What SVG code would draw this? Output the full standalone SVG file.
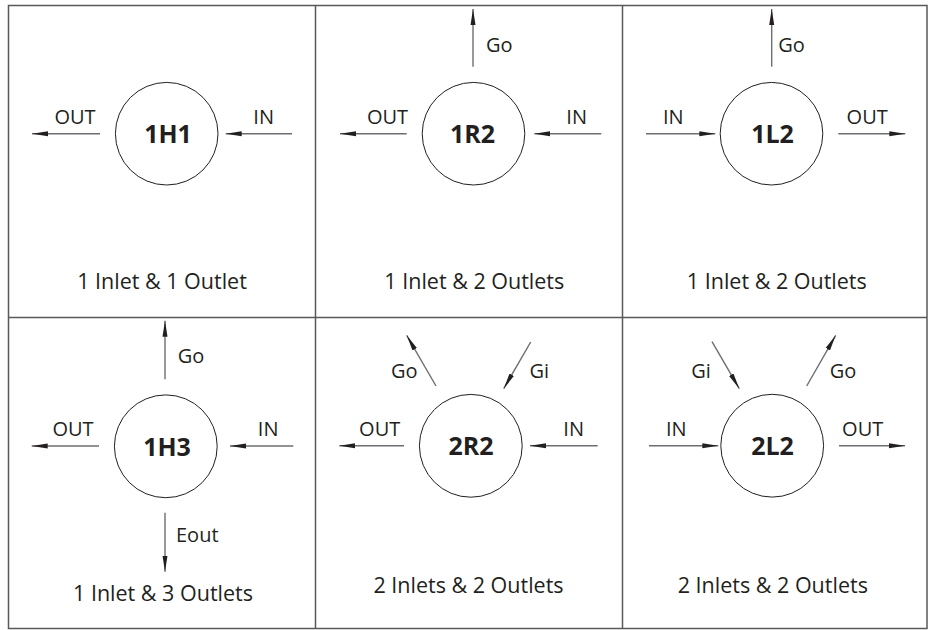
<svg xmlns="http://www.w3.org/2000/svg" width="930" height="630" viewBox="0 0 930 630">
<defs>
<marker id="ah" markerUnits="userSpaceOnUse" markerWidth="17" markerHeight="7" refX="16" refY="3.5" orient="auto">
<path d="M0,1 L16,3.5 L0,6 Z" fill="#231f20"/>
</marker>
<style>
.grid{fill:none;stroke:#58595b;stroke-width:1.5}
.node circle{fill:none;stroke:#231f20;stroke-width:1}
.id{font-family:"Open Sans","Noto Sans",sans-serif;font-weight:bold;font-size:25px;fill:#231f20;text-anchor:middle}
.lbl{font-family:"Open Sans","Noto Sans",sans-serif;font-size:20px;fill:#231f20}
.mid{text-anchor:middle}
.cap{font-family:"Open Sans","Noto Sans",sans-serif;font-size:21.5px;fill:#231f20;text-anchor:middle}
.conn line{stroke:#6d6e71;stroke-width:1.4;marker-end:url(#ah)}
</style>
</defs>
<rect fill="#ffffff" x="0" y="0" width="930" height="630"/>
<g id="grid" class="grid">
<rect x="8.5" y="5.5" width="918.5" height="623"/>
<line x1="315.5" y1="5.5" x2="315.5" y2="628.5"/>
<line x1="622.5" y1="5.5" x2="622.5" y2="628.5"/>
<line x1="8.5" y1="317.5" x2="927" y2="317.5"/>
</g>
<g id="connectors" class="conn">
<line x1="100" y1="133.7" x2="32" y2="133.7"/>
<line x1="292" y1="133.7" x2="225.7" y2="133.7"/>
<line x1="473" y1="66.7" x2="473" y2="9"/>
<line x1="406.7" y1="133.7" x2="340" y2="133.7"/>
<line x1="601.3" y1="133.7" x2="534.3" y2="133.7"/>
<line x1="771.7" y1="66.7" x2="771.7" y2="9"/>
<line x1="646" y1="133.7" x2="715.3" y2="133.7"/>
<line x1="838.3" y1="133.7" x2="905.3" y2="133.7"/>
<line x1="165" y1="379.3" x2="165" y2="320.7"/>
<line x1="99" y1="446" x2="31.7" y2="446"/>
<line x1="293.3" y1="446" x2="230" y2="446"/>
<line x1="165" y1="512.7" x2="165" y2="571.7"/>
<line x1="436" y1="386" x2="406.7" y2="335.3"/>
<line x1="530.7" y1="342" x2="503.7" y2="388.7"/>
<line x1="404" y1="445.7" x2="339.3" y2="445.7"/>
<line x1="597.7" y1="445.7" x2="530" y2="445.7"/>
<line x1="712" y1="341.7" x2="739.3" y2="388.7"/>
<line x1="806.7" y1="386" x2="835.7" y2="335.3"/>
<line x1="649" y1="445.7" x2="718.3" y2="445.7"/>
<line x1="839" y1="445.7" x2="905" y2="445.7"/>
</g>
<g id="n1H1" class="node">
<circle cx="166.7" cy="133.7" r="51.3"/>
<text class="id" x="168" y="143.3">1H1</text>
<text class="lbl mid" x="75" y="124">OUT</text>
<text class="lbl mid" x="263.7" y="124">IN</text>
<text class="cap" x="162" y="288.7">1 Inlet &amp; 1 Outlet</text>
</g>
<g id="n1R2" class="node">
<circle cx="473.5" cy="133.7" r="51.3"/>
<text class="id" x="472.5" y="143.3">1R2</text>
<text class="lbl" x="486" y="51.7">Go</text>
<text class="lbl mid" x="387.5" y="124">OUT</text>
<text class="lbl mid" x="576.7" y="124">IN</text>
<text class="cap" x="474.3" y="288.7">1 Inlet &amp; 2 Outlets</text>
</g>
<g id="n1L2" class="node">
<circle cx="771.5" cy="133.7" r="51.3"/>
<text class="id" x="772.5" y="143.3">1L2</text>
<text class="lbl" x="778.3" y="51.7">Go</text>
<text class="lbl mid" x="673.3" y="124">IN</text>
<text class="lbl mid" x="867.2" y="124">OUT</text>
<text class="cap" x="776.8" y="288.7">1 Inlet &amp; 2 Outlets</text>
</g>
<g id="n1H3" class="node">
<circle cx="165.8" cy="446.3" r="51.4"/>
<text class="id" x="167" y="456">1H3</text>
<text class="lbl" x="177.7" y="362.7">Go</text>
<text class="lbl mid" x="73" y="436.3">OUT</text>
<text class="lbl mid" x="268.2" y="436.3">IN</text>
<text class="lbl" x="176" y="541.7">Eout</text>
<text class="cap" x="163" y="600.7">1 Inlet &amp; 3 Outlets</text>
</g>
<g id="n2R2" class="node">
<circle cx="470.8" cy="445.8" r="51.4"/>
<text class="id" x="471" y="455.3">2R2</text>
<text class="lbl mid" x="404.2" y="378.3">Go</text>
<text class="lbl mid" x="539.3" y="378.3">Gi</text>
<text class="lbl mid" x="379.7" y="436.3">OUT</text>
<text class="lbl mid" x="573.7" y="436.3">IN</text>
<text class="cap" x="468.5" y="592.7">2 Inlets &amp; 2 Outlets</text>
</g>
<g id="n2L2" class="node">
<circle cx="772.2" cy="445.7" r="51.4"/>
<text class="id" x="772.5" y="455.3">2L2</text>
<text class="lbl mid" x="701" y="378.3">Gi</text>
<text class="lbl mid" x="843" y="378.3">Go</text>
<text class="lbl mid" x="676.3" y="436.3">IN</text>
<text class="lbl mid" x="862.7" y="436.3">OUT</text>
<text class="cap" x="772.8" y="592.7">2 Inlets &amp; 2 Outlets</text>
</g>
</svg>
